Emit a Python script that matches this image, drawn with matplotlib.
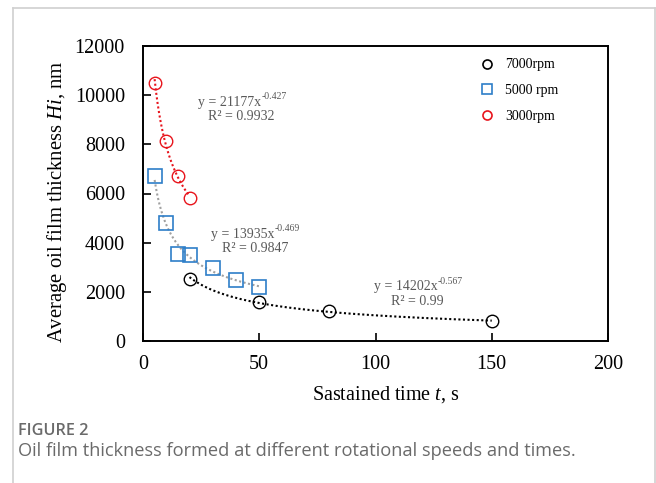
import numpy as np
import matplotlib.pyplot as plt
from matplotlib.lines import Line2D

# data
t_7000 = [20, 50, 80, 150]
h_7000 = [2520, 1590, 1220, 800]
t_5000 = [5, 10, 15, 20, 30, 40, 50]
h_5000 = [6700, 4800, 3540, 3500, 2970, 2480, 2200]
t_3000 = [5, 10, 15, 20]
h_3000 = [10500, 8150, 6700, 5800]

# power fits as printed on the chart
fit_7000 = (14202, -0.567, '0.99')
fit_5000 = (13935, -0.469, '0.9847')
fit_3000 = (21177, -0.427, '0.9932')

serif = 'Liberation Serif'
plt.rcParams['font.family'] = serif
plt.rcParams['mathtext.fontset'] = 'custom'
plt.rcParams['mathtext.rm'] = serif
plt.rcParams['mathtext.it'] = serif + ':italic'

fig = plt.figure(figsize=(6.56, 4.83), dpi=100)
ax = fig.add_axes([143/656, 1-341/483, 465/656, 295/483])

blue = '#2E7EC8'
red = '#E8141C'
eq_gray = '#595959'

def trend(ax, t, fit, color):
    a, b, _ = fit
    xs = np.linspace(min(t), max(t), 200)
    ax.plot(xs, a*xs**b, ls=(0, (1, 1.2)), color=color, lw=1.5, zorder=1)

trend(ax, t_3000, fit_3000, red)
trend(ax, t_5000, fit_5000, '#A0A0A0')
trend(ax, t_7000, fit_7000, 'black')

ax.plot(t_7000, h_7000, 'o', ms=9, mfc='none', mec='black', mew=1.0, zorder=3)
ax.plot(t_5000, h_5000, 's', ms=9.5, mfc='none', mec=blue, mew=1.2, zorder=3)
ax.plot(t_3000, h_3000, 'o', ms=9, mfc='none', mec=red, mew=1.0, zorder=3)

def eq_text(x0, y, xc, fit):
    a, b, r2 = fit
    main = ax.text(x0, y, 'y = %dx' % a, fontsize=10, color=eq_gray,
                   ha='left', va='center')
    ax.annotate('%s' % b, xy=(1, 0.95), xycoords=main, fontsize=7,
                color=eq_gray, ha='left', va='center')
    ax.text(xc, y - 580, 'R² = %s' % r2, fontsize=10, color=eq_gray,
            ha='center', va='center')

eq_text(23.7, 9720, 42.4, fit_3000)
eq_text(29.2, 4350, 48.4, fit_5000)
eq_text(99.4, 2200, 118, fit_7000)

ax.set_xlim(0, 200)
ax.set_ylim(0, 12000)
ax.set_xticks([0, 50, 100, 150, 200])
ax.set_yticks(range(0, 12001, 2000))
ax.tick_params(direction='in', labelsize=14.5, length=6, width=1.2)
ax.tick_params(axis='y', pad=13)
ax.tick_params(axis='x', pad=10)
for s in ax.spines.values():
    s.set_linewidth(1.4)
ax.set_xlabel(r'Sastained time $\mathit{t}$, s', fontsize=14.5, labelpad=6)
ax.xaxis.set_label_coords(0.523, -0.145)
ax.set_ylabel(r'Average oil film thickness $\mathit{Hi}$, nm', fontsize=14.9)
ax.yaxis.set_label_coords(-0.159, 0.471)

handles = [Line2D([], [], ls='none', marker='o', ms=6.5, mfc='none', mec='black', mew=1.2),
           Line2D([], [], ls='none', marker='s', ms=6.5, mfc='none', mec=blue, mew=1.2),
           Line2D([], [], ls='none', marker='o', ms=6.5, mfc='none', mec=red, mew=1.2)]
ax.legend(handles, ['7000rpm', '5000 rpm', '3000rpm'], loc='upper left',
          bbox_to_anchor=(0.725, 0.958), frameon=False, fontsize=10,
          handlelength=1.0, handletextpad=0.8, labelspacing=0.92,
          borderpad=0, borderaxespad=0)

# outer card border
for xs, ys in [([13, 13], [483, 8]), ([13, 655], [8, 8]), ([655, 655], [8, 483])]:
    fig.add_artist(Line2D([x/656 for x in xs], [1-y/483 for y in ys],
                          color='#D0D0D0', lw=1.2))

fig.text(18/656, 1-431/483, 'FIGURE 2', fontsize=11.7, family='Open Sans',
         color='#6A6A6A', va='center', fontweight='semibold')
fig.text(18/656, 1-451/483,
         'Oil film thickness formed at different rotational speeds and times.',
         fontsize=13.15, family='Open Sans', color='#6A6A6A', va='center')

fig.savefig('out.png', dpi=100)
